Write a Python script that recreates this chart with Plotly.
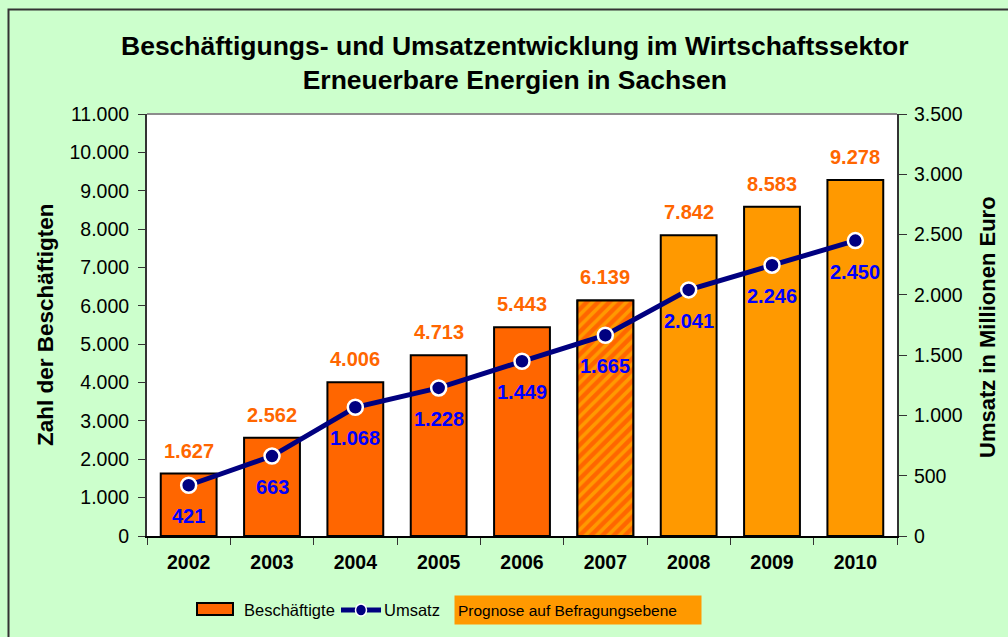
import plotly.graph_objects as go

# Data
years = ["2002", "2003", "2004", "2005", "2006", "2007", "2008", "2009", "2010"]
beschaeftigte = [1627, 2562, 4006, 4713, 5443, 6139, 7842, 8583, 9278]
umsatz = [421, 663, 1068, 1228, 1449, 1665, 2041, 2246, 2450]
hatched_year = "2007"

# Styling
DARK_ORANGE = "#FF6600"
LIGHT_ORANGE = "#FF9900"
NAVY = "#000080"
BLUE = "#0000FF"
BG = "#CCFFCC"
FONT = "Liberation Sans, Arial, sans-serif"

bar_colors = [DARK_ORANGE] * 6 + [LIGHT_ORANGE] * 3

W, H = 1008, 637
L, R, T, B = 147, 897, 114, 536


def px(x):
    return (x - L) / (R - L)


def py(y):
    return (B - y) / (B - T)


def de(v):
    return f"{v:,}".replace(",", ".")


fig = go.Figure()

fig.add_trace(go.Bar(
    x=years, y=beschaeftigte, name="Beschäftigte",
    width=0.67,
    marker=dict(color=bar_colors, line=dict(color="black", width=2)),
    showlegend=False, hoverinfo="x+y",
))

# hatched bar drawn on top of the same category slot
hatch_y = [v if yr == hatched_year else None for yr, v in zip(years, beschaeftigte)]
fig.add_trace(go.Bar(
    x=years, y=hatch_y, name="Beschäftigte",
    width=0.67,
    marker=dict(
        color=DARK_ORANGE,
        line=dict(color="black", width=2),
        pattern=dict(shape="/", fgcolor=LIGHT_ORANGE, bgcolor=DARK_ORANGE,
                     fgopacity=1, size=8, solidity=0.45, fillmode="overlay"),
    ),
    showlegend=False, hoverinfo="skip",
))

fig.add_trace(go.Scatter(
    x=years, y=umsatz, name="Umsatz", yaxis="y2",
    mode="lines+markers",
    line=dict(color=NAVY, width=5),
    marker=dict(size=15, color=NAVY, line=dict(color="white", width=2.5)),
    showlegend=False,
))

annotations = []
# value labels; category positions are given by index on the category axis
for i, v in enumerate(beschaeftigte):
    annotations.append(dict(x=i, y=v, xref="x", yref="y", text=de(v), showarrow=False,
                            yshift=23, font=dict(family=FONT, size=20, color=DARK_ORANGE, weight="bold")))
for i, v in enumerate(umsatz):
    annotations.append(dict(x=i, y=v, xref="x", yref="y2", text=de(v), showarrow=False,
                            yshift=-31, font=dict(family=FONT, size=20, color=BLUE, weight="bold")))

# Title
annotations.append(dict(x=px(515), y=py(62.5), xref="paper", yref="paper",
                        text="Beschäftigungs- und Umsatzentwicklung im Wirtschaftssektor<br>"
                             "Erneuerbare Energien in Sachsen",
                        showarrow=False, xanchor="center", yanchor="middle",
                        font=dict(family=FONT, size=26.5, color="black", weight="bold")))

# Axis titles
annotations.append(dict(x=px(45), y=py(324), xref="paper", yref="paper", text="Zahl der Beschäftigten",
                        textangle=-90, showarrow=False, xanchor="center", yanchor="middle",
                        font=dict(family=FONT, size=22.5, color="black", weight="bold")))
annotations.append(dict(x=px(987), y=py(327), xref="paper", yref="paper", text="Umsatz in Millionen Euro",
                        textangle=-90, showarrow=False, xanchor="center", yanchor="middle",
                        font=dict(family=FONT, size=22, color="black", weight="bold")))

# Legend texts
annotations.append(dict(x=px(242), y=py(610), xref="paper", yref="paper", text="Beschäftigte",
                        xanchor="left", yanchor="middle", showarrow=False,
                        font=dict(family=FONT, size=16.5, color="black")))
annotations.append(dict(x=px(382), y=py(610), xref="paper", yref="paper", text="Umsatz",
                        xanchor="left", yanchor="middle", showarrow=False,
                        font=dict(family=FONT, size=16.5, color="black")))
annotations.append(dict(x=px(454), y=py(610), xref="paper", yref="paper", text="Prognose auf Befragungsebene",
                        xanchor="left", yanchor="middle", showarrow=False, align="left", width=240, height=22,
                        bgcolor=LIGHT_ORANGE, borderpad=3,
                        font=dict(family=FONT, size=15.5, color="black")))

shapes = [
    # outer frame
    dict(type="rect", xref="paper", yref="paper", x0=px(8.5), x1=px(1015), y0=py(645), y1=py(9.5),
         line=dict(color="#333333", width=2), fillcolor="rgba(0,0,0,0)", layer="below"),
    # top edge of plot area
    dict(type="line", xref="paper", yref="paper", x0=0, x1=1, y0=1, y1=1,
         line=dict(color="#8C8C8C", width=2)),
    # legend: bar sample
    dict(type="rect", xref="paper", yref="paper", x0=px(197), x1=px(233), y0=py(615), y1=py(603),
         line=dict(color="black", width=2), fillcolor=DARK_ORANGE),
    # legend: line sample
    dict(type="line", xref="paper", yref="paper", x0=px(341), x1=px(381), y0=py(610), y1=py(610),
         line=dict(color=NAVY, width=5)),
    dict(type="circle", xref="paper", yref="paper", x0=px(355.5), x1=px(366.5), y0=py(616), y1=py(604),
         line=dict(color="white", width=1.5), fillcolor=NAVY),
]

tickfont = dict(family=FONT, size=19.5, color="black")

fig.update_layout(
    width=W, height=H,
    margin=dict(l=L, r=W - R, t=T, b=H - B, pad=0),
    paper_bgcolor=BG, plot_bgcolor="white",
    separators=",.",
    barmode="overlay",
    xaxis=dict(type="category", range=[-0.5, len(years) - 0.5], showline=True, linecolor="black", linewidth=2,
               ticks="outside", ticklen=7, tickcolor="#333333", tickson="boundaries",
               ticklabelstandoff=8, tickangle=0,
               tickfont=dict(family=FONT, size=19.5, color="black", weight="bold"),
               showgrid=False, zeroline=False),
    yaxis=dict(range=[0, 11000], dtick=1000, tickformat=",d", showline=True, linecolor="#333333",
               linewidth=2, ticks="outside", ticklen=7, tickcolor="#333333", ticklabelstandoff=5,
               tickfont=tickfont, showgrid=False, zeroline=False),
    yaxis2=dict(range=[0, 3500], dtick=500, tickformat=",d", overlaying="y", side="right",
                showline=True, linecolor="#333333", linewidth=2, ticks="outside", ticklen=8,
                tickcolor="#333333", ticklabelstandoff=3, tickfont=tickfont,
                showgrid=False, zeroline=False),
    annotations=annotations,
    shapes=shapes,
    showlegend=False,
)

fig.write_html("out.html")
